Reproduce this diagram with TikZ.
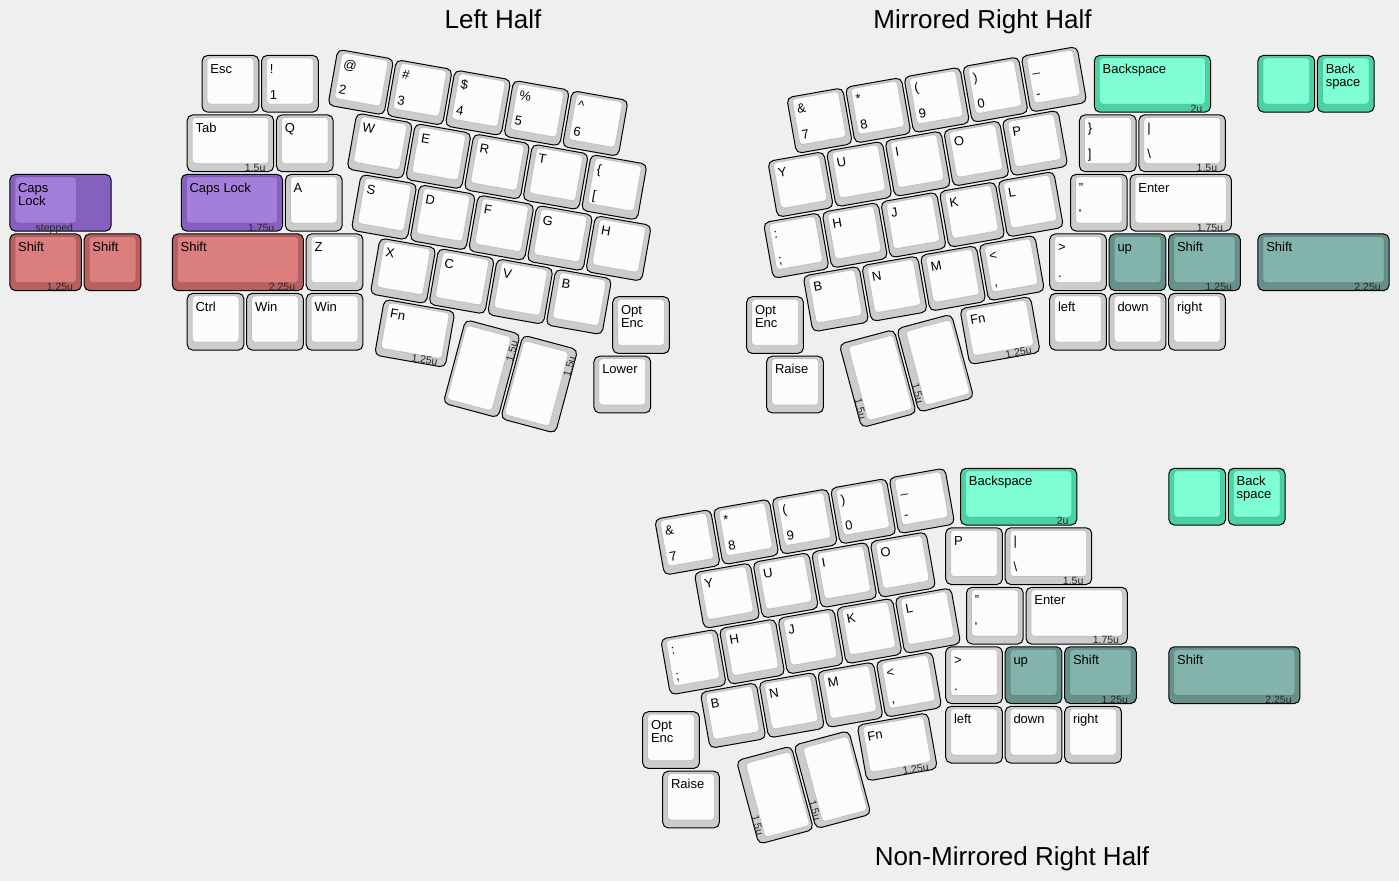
\documentclass[tikz,border=0pt]{standalone}
\usepackage{fontspec}
\setmainfont{Liberation Sans}
\definecolor{bg}{HTML}{EFEFEF}
\definecolor{gO}{HTML}{CCCCCC}\definecolor{gI}{HTML}{FCFCFC}
\definecolor{pO}{HTML}{8560BE}\definecolor{pI}{HTML}{A37EDA}
\definecolor{rO}{HTML}{B86060}\definecolor{rI}{HTML}{DA7E7E}
\definecolor{tO}{HTML}{4CD1A6}\definecolor{tI}{HTML}{7FFFD4}
\definecolor{dO}{HTML}{66918A}\definecolor{dI}{HTML}{82B4AB}
\def\U{59.5}
\newcounter{kc}
\tikzset{
 keyout/.style={draw=black, line width=1, rounded corners=5.5},
 keyin/.style={draw=black, draw opacity=0.12, line width=0.8, rounded corners=3.3},
 lab/.style={anchor=base west, inner sep=0, font=\fontsize{13}{13}\selectfont, text=black, transform shape},
 flab/.style={anchor=base east, inner sep=0, font=\fontsize{10.5}{10.5}\selectfont, text=black!85, transform shape},
 ttl/.style={anchor=base, inner sep=0, font=\fontsize{26}{30}\selectfont, text=black}
}
\newcommand\kk[9]{%
  \stepcounter{kc}%
  \pgfmathsetmacro\kxa{(#2)*\U+1.4}%
  \pgfmathsetmacro\kya{(#3)*\U+1.4}%
  \pgfmathsetmacro\kxb{(#2+#4)*\U-1.4}%
  \pgfmathsetmacro\kyb{(#3+#5)*\U-1.4}%
  \pgfmathsetmacro\kxc{(#2)*\U+6.5}%
  \pgfmathsetmacro\kyc{(#3)*\U+4}%
  \pgfmathsetmacro\kxd{(#2+#4)*\U-6.5}%
  \pgfmathsetmacro\kyd{(#3+#5)*\U-9.5}%
  \path[keyout,fill=#1O] (\kxa,\kya) rectangle (\kxb,\kyb);%
  \path[keyin,fill=#1I] (\kxc,\kyc) rectangle (\kxd,\kyd);%
  \if\relax\detokenize{#6}\relax\else
    \node[lab] (t\thekc) at ({(#2)*\U+9.5},{(#3)*\U+19}) {#6};\fi
  \if\relax\detokenize{#7}\relax\else
    \node[lab] (s\thekc) at ({(#2)*\U+9.5},{(#3)*\U+32}) {#7};\fi
  \if\relax\detokenize{#8}\relax\else
    \node[lab] (b\thekc) at ({(#2)*\U+9.5},{(#3+#5)*\U-14.2}) {#8};\fi
  \if\relax\detokenize{#9}\relax\else
    \node[flab] (f\thekc) at ({(#2+#4)*\U-9.5},{(#3+#5)*\U-1.5}) {#9};\fi
}
\begin{document}
\begin{tikzpicture}[x=1pt,y=-1pt]
\useasboundingbox (0,0) rectangle (1399,881);
\fill[bg] (0,0) rectangle (1399,881);

% titles
\node[ttl] (title1) at (493,28.3) {Left Half};
\node[ttl] (title2) at (982.5,28.3) {Mirrored Right Half};
\node[ttl] (title3) at (1012,865) {Non-Mirrored Right Half};

% ---------- far left extras
\begin{scope}[shift={(8.4,54)}]
\path[keyout,fill=pO] (1.4,{2*\U+1.4}) rectangle ({1.75*\U-1.4},{3*\U-1.4});
\path[keyin,fill=pI] (6.5,{2*\U+4}) rectangle ({1.25*\U-6.5},{3*\U-9.5});
\node[lab] (capsA) at (9.5,{2*\U+19}) {Caps};
\node[lab] (capsB) at (9.5,{2*\U+32}) {Lock};
\node[flab] (capsF) at ({1.25*\U-9.5},{3*\U-1.5}) {stepped};
\kk{r}{0}{3}{1.25}{1}{Shift}{}{}{1.25u}
\kk{r}{1.25}{3}{1}{1}{Shift}{}{}{}
\end{scope}

% ---------- left half, straight part
\begin{scope}[shift={(200.7,54)}]
\kk{g}{0}{0}{1}{1}{Esc}{}{}{}
\kk{g}{1}{0}{1}{1}{!}{}{1}{}
\kk{g}{-0.25}{1}{1.5}{1}{Tab}{}{}{1.5u}
\kk{g}{1.25}{1}{1}{1}{Q}{}{}{}
\kk{p}{-0.35}{2}{1.75}{1}{Caps Lock}{}{}{1.75u}
\kk{g}{1.4}{2}{1}{1}{A}{}{}{}
\kk{r}{-0.5}{3}{2.25}{1}{Shift}{}{}{2.25u}
\kk{g}{1.75}{3}{1}{1}{Z}{}{}{}
\kk{g}{-0.25}{4}{1}{1}{Ctrl}{}{}{}
\kk{g}{0.75}{4}{1}{1}{Win}{}{}{}
\kk{g}{1.75}{4}{1}{1}{Win}{}{}{}
\end{scope}

% ---------- left half, rotated block
\begin{scope}[shift={(336.7,47.7)},rotate=-10]
\kk{g}{0}{0}{1}{1}{@}{}{2}{}
\kk{g}{1}{0}{1}{1}{\#}{}{3}{}
\kk{g}{2}{0}{1}{1}{\$}{}{4}{}
\kk{g}{3}{0}{1}{1}{\%}{}{5}{}
\kk{g}{4}{0}{1}{1}{\textasciicircum}{}{6}{}
\kk{g}{0.5}{1}{1}{1}{W}{}{}{}
\kk{g}{1.5}{1}{1}{1}{E}{}{}{}
\kk{g}{2.5}{1}{1}{1}{R}{}{}{}
\kk{g}{3.5}{1}{1}{1}{T}{}{}{}
\kk{g}{4.5}{1}{1}{1}{\{}{}{[}{}
\kk{g}{0.75}{2}{1}{1}{S}{}{}{}
\kk{g}{1.75}{2}{1}{1}{D}{}{}{}
\kk{g}{2.75}{2}{1}{1}{F}{}{}{}
\kk{g}{3.75}{2}{1}{1}{G}{}{}{}
\kk{g}{4.75}{2}{1}{1}{H}{}{}{}
\kk{g}{1.25}{3}{1}{1}{X}{}{}{}
\kk{g}{2.25}{3}{1}{1}{C}{}{}{}
\kk{g}{3.25}{3}{1}{1}{V}{}{}{}
\kk{g}{4.25}{3}{1}{1}{B}{}{}{}
\kk{g}{1.5}{4}{1.25}{1}{Fn}{}{}{1.25u}
\end{scope}
\begin{scope}[shift={(481.8,368.7)},rotate=75]
\kk{g}{-0.75}{-0.5}{1.5}{1}{}{}{}{1.5u}
\end{scope}
\begin{scope}[shift={(539.2,384.1)},rotate=75]
\kk{g}{-0.75}{-0.5}{1.5}{1}{}{}{}{1.5u}
\end{scope}
\begin{scope}[shift={(611.3,295.3)}]
\kk{g}{0}{0}{1}{1}{Opt}{Enc}{}{}
\kk{g}{-0.315}{1}{1}{1}{Lower}{}{}{}
\end{scope}

% ---------- mirrored right half
\begin{scope}[shift={(785.1,96.55)},rotate=10]
\kk{g}{0}{0}{1}{1}{\&}{}{7}{}
\kk{g}{1}{0}{1}{1}{*}{}{8}{}
\kk{g}{2}{0}{1}{1}{(}{}{9}{}
\kk{g}{3}{0}{1}{1}{)}{}{0}{}
\kk{g}{4}{0}{1}{1}{\_}{}{-}{}
\kk{g}{-0.5}{1}{1}{1}{Y}{}{}{}
\kk{g}{0.5}{1}{1}{1}{U}{}{}{}
\kk{g}{1.5}{1}{1}{1}{I}{}{}{}
\kk{g}{2.5}{1}{1}{1}{O}{}{}{}
\kk{g}{3.5}{1}{1}{1}{P}{}{}{}
\kk{g}{-0.75}{2}{1}{1}{:}{}{;}{}
\kk{g}{0.25}{2}{1}{1}{H}{}{}{}
\kk{g}{1.25}{2}{1}{1}{J}{}{}{}
\kk{g}{2.25}{2}{1}{1}{K}{}{}{}
\kk{g}{3.25}{2}{1}{1}{L}{}{}{}
\kk{g}{-0.25}{3}{1}{1}{B}{}{}{}
\kk{g}{0.75}{3}{1}{1}{N}{}{}{}
\kk{g}{1.75}{3}{1}{1}{M}{}{}{}
\kk{g}{2.75}{3}{1}{1}{<}{}{,}{}
\kk{g}{2.25}{4}{1.25}{1}{Fn}{}{}{1.25u}
\end{scope}
\begin{scope}[shift={(877.8,378.6)},rotate=-75]
\kk{g}{-0.75}{-0.5}{1.5}{1}{}{}{}{1.5u}
\end{scope}
\begin{scope}[shift={(935.2,363.2)},rotate=-75]
\kk{g}{-0.75}{-0.5}{1.5}{1}{}{}{}{1.5u}
\end{scope}
\begin{scope}[shift={(745.3,295.3)}]
\kk{g}{0}{0}{1}{1}{Opt}{Enc}{}{}
\kk{g}{0.336}{1}{1}{1}{Raise}{}{}{}
\end{scope}
\begin{scope}[shift={(1048.3,54)}]
\kk{t}{0.75}{0}{2}{1}{Backspace}{}{}{2u}
\kk{t}{3.5}{0}{1}{1}{}{}{}{}
\kk{t}{4.5}{0}{1}{1}{Back}{space}{}{}
\kk{g}{0.5}{1}{1}{1}{\}}{}{]}{}
\kk{g}{1.5}{1}{1.5}{1}{|}{}{\textbackslash}{1.5u}
\kk{g}{0.35}{2}{1}{1}{"}{}{\textquotesingle}{}
\kk{g}{1.35}{2}{1.75}{1}{Enter}{}{}{1.75u}
\kk{g}{0}{3}{1}{1}{>}{}{.}{}
\kk{d}{1}{3}{1}{1}{up}{}{}{}
\kk{d}{2}{3}{1.25}{1}{Shift}{}{}{1.25u}
\kk{d}{3.5}{3}{2.25}{1}{Shift}{}{}{2.25u}
\kk{g}{0}{4}{1}{1}{left}{}{}{}
\kk{g}{1}{4}{1}{1}{down}{}{}{}
\kk{g}{2}{4}{1}{1}{right}{}{}{}
\end{scope}

% ---------- non-mirrored right half
\begin{scope}[shift={(653,518.15)},rotate=10]
\kk{g}{0}{0}{1}{1}{\&}{}{7}{}
\kk{g}{1}{0}{1}{1}{*}{}{8}{}
\kk{g}{2}{0}{1}{1}{(}{}{9}{}
\kk{g}{3}{0}{1}{1}{)}{}{0}{}
\kk{g}{4}{0}{1}{1}{\_}{}{-}{}
\kk{g}{0.5}{1}{1}{1}{Y}{}{}{}
\kk{g}{1.5}{1}{1}{1}{U}{}{}{}
\kk{g}{2.5}{1}{1}{1}{I}{}{}{}
\kk{g}{3.5}{1}{1}{1}{O}{}{}{}
\kk{g}{-0.25}{2}{1}{1}{:}{}{;}{}
\kk{g}{0.75}{2}{1}{1}{H}{}{}{}
\kk{g}{1.75}{2}{1}{1}{J}{}{}{}
\kk{g}{2.75}{2}{1}{1}{K}{}{}{}
\kk{g}{3.75}{2}{1}{1}{L}{}{}{}
\kk{g}{0.25}{3}{1}{1}{B}{}{}{}
\kk{g}{1.25}{3}{1}{1}{N}{}{}{}
\kk{g}{2.25}{3}{1}{1}{M}{}{}{}
\kk{g}{3.25}{3}{1}{1}{<}{}{,}{}
\kk{g}{2.75}{4}{1.25}{1}{Fn}{}{}{1.25u}
\end{scope}
\begin{scope}[shift={(775,795.1)},rotate=-75]
\kk{g}{-0.75}{-0.5}{1.5}{1}{}{}{}{1.5u}
\end{scope}
\begin{scope}[shift={(832.4,779.7)},rotate=-75]
\kk{g}{-0.75}{-0.5}{1.5}{1}{}{}{}{1.5u}
\end{scope}
\begin{scope}[shift={(641.3,710.3)}]
\kk{g}{0}{0}{1}{1}{Opt}{Enc}{}{}
\kk{g}{0.336}{1}{1}{1}{Raise}{}{}{}
\end{scope}
\begin{scope}[shift={(944.3,466.9)}]
\kk{t}{0.25}{0}{2}{1}{Backspace}{}{}{2u}
\kk{t}{3.75}{0}{1}{1}{}{}{}{}
\kk{t}{4.75}{0}{1}{1}{Back}{space}{}{}
\kk{g}{0}{1}{1}{1}{P}{}{}{}
\kk{g}{1}{1}{1.5}{1}{|}{}{\textbackslash}{1.5u}
\kk{g}{0.35}{2}{1}{1}{"}{}{\textquotesingle}{}
\kk{g}{1.35}{2}{1.75}{1}{Enter}{}{}{1.75u}
\kk{g}{0}{3}{1}{1}{>}{}{.}{}
\kk{d}{1}{3}{1}{1}{up}{}{}{}
\kk{d}{2}{3}{1.25}{1}{Shift}{}{}{1.25u}
\kk{d}{3.75}{3}{2.25}{1}{Shift}{}{}{2.25u}
\kk{g}{0}{4}{1}{1}{left}{}{}{}
\kk{g}{1}{4}{1}{1}{down}{}{}{}
\kk{g}{2}{4}{1}{1}{right}{}{}{}
\end{scope}
\end{tikzpicture}
\end{document}
